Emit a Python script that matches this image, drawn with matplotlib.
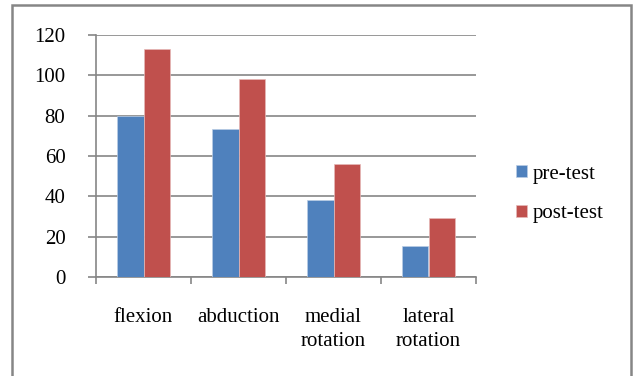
import matplotlib.pyplot as plt
import numpy as np
from matplotlib.patches import Rectangle

categories = ["flexion", "abduction", "medial\nrotation", "lateral\nrotation"]
pre_test = [80, 73.5, 38, 15.5]
post_test = [113, 98, 56, 29.5]

plt.rcParams['font.family'] = ['Liberation Serif', 'DejaVu Serif']

fig = plt.figure(figsize=(6.34, 3.76), dpi=100)
ax = fig.add_axes([96 / 634, 1 - 277 / 376, 380 / 634, 242 / 376])

x = np.arange(len(categories))
w = 0.283
ax.bar(x - w / 2, pre_test, w, color='#4F81BD', edgecolor='#B9CDE5', linewidth=0.5, label='pre-test', zorder=3)
ax.bar(x + w / 2, post_test, w, color='#C0504D', edgecolor='#E6B9B8', linewidth=0.5, label='post-test', zorder=3)

ax.set_xlim(-0.5, len(categories) - 0.5)
ax.set_ylim(0, 120)
ax.set_yticks(range(0, 121, 20))
ax.yaxis.grid(True, color='#868686', linewidth=1.2, zorder=0)
ax.set_xticks(x)
ax.set_xticklabels(categories, fontsize=15, linespacing=1.38)
ax.set_xticks(np.arange(-0.5, len(categories)), minor=True)
ax.tick_params(axis='x', which='major', length=0, pad=22)
ax.tick_params(axis='x', which='minor', length=5, color='#868686', width=1.2)
ax.tick_params(axis='y', length=6, color='#868686', width=1.2, labelsize=15, pad=16)

for s in ['top', 'right']:
    ax.spines[s].set_visible(False)
for s in ['left', 'bottom']:
    ax.spines[s].set_color('#868686')
    ax.spines[s].set_linewidth(1.2)

ax.legend(loc='center left', bbox_to_anchor=(1.105, 0.343), frameon=False, fontsize=15,
          handlelength=0.55, handleheight=0.55, handletextpad=0.25, labelspacing=1.0,
          borderaxespad=0, borderpad=0)

fig.patches.append(Rectangle((12 / 634, -0.05), 619 / 634, 1.05 - 5 / 376, transform=fig.transFigure,
                             fill=False, edgecolor='#868686', linewidth=1.8))

fig.savefig('out.png', dpi=100)
